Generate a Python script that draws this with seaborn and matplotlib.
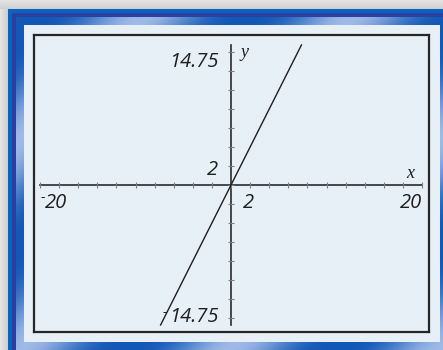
import numpy as np
import pandas as pd
import matplotlib
matplotlib.use("Agg")
import matplotlib.pyplot as plt
import seaborn as sns

# Graph of y = 2x on a [-20, 20] x [-14.75, 14.75] window
line_x = [-7.375, 7.375]
line_y = [-14.75, 14.75]
x_window = [-20, 20]
y_window = [-14.75, 14.75]
x_ticks = list(range(-20, 21, 2))
y_ticks = list(range(-14, 15, 2))

W, H = 443, 350
fig = plt.figure(figsize=(W / 100, H / 100), dpi=100)

# ---- decorative frame behind the plot ----
yy, xx = np.mgrid[0:H, 0:W] + 0.5
img = np.zeros((H, W, 3))
g = np.where(yy < 9, 0.90 - 0.09 * (yy / 9), 0.90 - 0.09 * np.clip(xx / 8, 0, 1))
img[:] = g[..., None]

def rgb(h):
    h = h.lstrip("#")
    return np.array([int(h[i:i + 2], 16) / 255 for i in (0, 2, 4)])

outer = (xx >= 8) & (yy >= 9)
img[outer] = rgb("#0b63bd")
inner = (xx >= 12) & (yy >= 13)
img[inner] = rgb("#2a3fa0")
band = (xx >= 16) & (yy >= 17)
t = 0.5 + 0.5 * np.cos(2 * np.pi * (xx + yy - 160) / 210)
t = t ** 1.5
mix = rgb("#1258b6")[None, None, :] * (1 - t[..., None]) + rgb("#9fb9e8")[None, None, :] * t[..., None]
img[band] = mix[band]
panel = (xx >= 24) & (yy >= 25) & (xx < 440) & (yy < 342)
img[panel] = rgb("#e8f0f7")

bg = fig.add_axes([0, 0, 1, 1])
bg.imshow(img, extent=(0, W, H, 0), interpolation="nearest", aspect="auto")
bg.set_xlim(0, W)
bg.set_ylim(H, 0)
bg.axis("off")

# ---- plot area ----
ax = fig.add_axes([34 / W, 1 - 332 / H, (429 - 34) / W, (332 - 35) / H])
ax.set_facecolor("#e8f0f7")
ax.set_xlim(-20.63, 20.73)
ax.set_ylim(-15.49, 15.8)
for s in ax.spines.values():
    s.set_linewidth(1.6)
    s.set_color("#262626")
ax.set_xticks([])
ax.set_yticks([])

axis_col = "#2a2a2a"
tick_col = "#808080"
ax.plot(x_window, [0, 0], color=axis_col, lw=1.2, zorder=2)
ax.plot([0, 0], y_window, color=axis_col, lw=1.2, zorder=2)
ax.scatter(x_ticks, [0] * len(x_ticks), marker="|", s=16, linewidths=0.8, color=tick_col, zorder=3)
ax.scatter([0] * len(y_ticks), y_ticks, marker="_", s=16, linewidths=0.8, color=tick_col, zorder=3)

df = pd.DataFrame({"x": line_x, "y": line_y})
sns.lineplot(data=df, x="x", y="y", ax=ax, color="#1e1e1e", lw=1.0, zorder=4)
ax.set_xlabel("")
ax.set_ylabel("")

num = dict(family="Open Sans", style="italic", fontsize=14.5, color="#1f1f1f")
minus = dict(family="Open Sans", fontsize=10, color="#1f1f1f")
ax.text(-1.3, 12.45, "14.75", ha="right", va="baseline", **num)
ax.text(-1.3, -14.42, "14.75", ha="right", va="baseline", **num)
ax.text(-6.7, -13.85, "-", ha="right", va="baseline", **minus)
ax.text(-1.4, 1.05, "2", ha="right", va="baseline", **num)
ax.text(1.2, -2.4, "2", ha="left", va="baseline", **num)
ax.text(-19.45, -2.4, "20", ha="left", va="baseline", **num)
ax.text(-19.5, -1.7, "-", ha="right", va="baseline", **minus)
ax.text(20.0, -2.4, "20", ha="right", va="baseline", **num)

var = dict(family="Liberation Serif", style="italic", fontsize=13, color="#1f1f1f")
ax.text(18.8, 0.74, "x", ha="center", va="baseline", **var)
ax.text(1.0, 13.5, "y", ha="left", va="baseline", **var)

fig.savefig("out.png", dpi=100)
